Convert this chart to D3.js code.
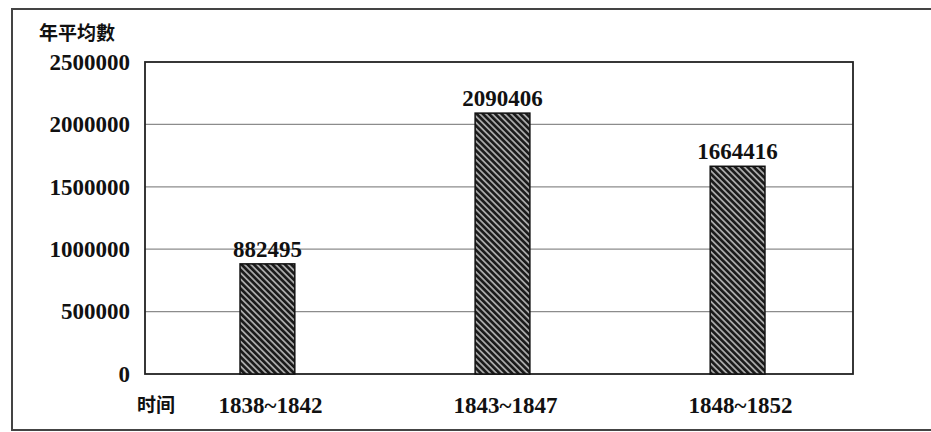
<!DOCTYPE html>
<html lang="zh">
<head>
    <meta charset="UTF-8">
    <title>年平均數</title>
    <script src="https://cdnjs.cloudflare.com/ajax/libs/d3/7.8.5/d3.min.js"></script>
    <style>
        body {
            margin: 0;
            padding: 0;
            background: #fff;
        }
        svg text {
            font-family: "Liberation Serif", "Times New Roman", serif;
            font-weight: bold;
            fill: #111;
        }
        .cjk {
            font-family: "Noto Sans CJK SC", "Noto Sans CJK TC", sans-serif !important;
        }
    </style>
</head>
<body>
    <div id="chart"></div>

    <script>
        // chart data
        const periods = ['1838~1842', '1843~1847', '1848~1852'];
        const averages = [882495, 2090406, 1664416];
        const yTicks = [0, 500000, 1000000, 1500000, 2000000, 2500000];

        const width = 931;
        const height = 432;
        const plot = { left: 145, right: 853, top: 62, bottom: 374 };

        const svg = d3.select('#chart').append('svg')
            .attr('width', width)
            .attr('height', height);

        // hatch pattern for bars (lines running top-left to bottom-right)
        const defs = svg.append('defs');
        const pat = defs.append('pattern')
            .attr('id', 'hatch')
            .attr('patternUnits', 'userSpaceOnUse')
            .attr('width', 4.4)
            .attr('height', 4.4)
            .attr('patternTransform', 'rotate(-45)');
        pat.append('rect')
            .attr('width', 4.4)
            .attr('height', 4.4)
            .attr('fill', '#a8a8a8');
        pat.append('rect')
            .attr('width', 2.6)
            .attr('height', 4.4)
            .attr('fill', '#1a1a1a');

        // outer frame
        svg.append('rect')
            .attr('x', 12)
            .attr('y', 9)
            .attr('width', 940)
            .attr('height', 421)
            .attr('fill', 'none')
            .attr('stroke', '#444')
            .attr('stroke-width', 2);

        const x = d3.scaleBand()
            .domain(periods)
            .range([150, 855])
            .paddingInner(0.767)
            .paddingOuter(0.383);

        const y = d3.scaleLinear()
            .domain([0, 2500000])
            .range([plot.bottom, plot.top]);

        // gridlines
        svg.append('g')
            .selectAll('line')
            .data(yTicks.filter(d => d > 0 && d < 2500000))
            .join('line')
            .attr('x1', plot.left)
            .attr('x2', plot.right)
            .attr('y1', d => y(d))
            .attr('y2', d => y(d))
            .attr('stroke', '#8c8c8c')
            .attr('stroke-width', 1.2);

        // plot border
        svg.append('rect')
            .attr('x', plot.left)
            .attr('y', plot.top)
            .attr('width', plot.right - plot.left)
            .attr('height', plot.bottom - plot.top)
            .attr('fill', 'none')
            .attr('stroke', '#222')
            .attr('stroke-width', 1.8);

        // y axis labels
        const yAxis = svg.append('g')
            .attr('transform', `translate(${plot.left},0)`)
            .call(d3.axisLeft(y).tickValues(yTicks).tickSize(0).tickPadding(15).tickFormat(d3.format('d')));
        yAxis.select('.domain').remove();
        yAxis.selectAll('text')
            .attr('font-size', 23)
            .attr('font-family', '"Liberation Serif", serif')
            .attr('font-weight', 'bold')
            .attr('fill', '#111');

        // bars
        svg.append('g')
            .selectAll('rect')
            .data(averages)
            .join('rect')
            .attr('x', (d, i) => x(periods[i]))
            .attr('y', d => y(d))
            .attr('width', x.bandwidth())
            .attr('height', d => y(0) - y(d))
            .attr('fill', 'url(#hatch)')
            .attr('stroke', '#111')
            .attr('stroke-width', 1.5);

        // value labels
        svg.append('g')
            .selectAll('text')
            .data(averages)
            .join('text')
            .attr('x', (d, i) => x(periods[i]) + x.bandwidth() / 2)
            .attr('y', d => y(d) - 7)
            .attr('text-anchor', 'middle')
            .attr('font-size', 23)
            .text(d => d);

        // x labels
        svg.append('g')
            .selectAll('text')
            .data(periods)
            .join('text')
            .attr('x', d => x(d) + x.bandwidth() / 2 + 3)
            .attr('y', 413)
            .attr('text-anchor', 'middle')
            .attr('font-size', 23)
            .text(d => d);

        svg.append('text')
            .attr('class', 'cjk')
            .attr('x', 137)
            .attr('y', 412)
            .attr('font-size', 19)
            .text('时间');

        svg.append('text')
            .attr('class', 'cjk')
            .attr('x', 39)
            .attr('y', 40)
            .attr('font-size', 19)
            .text('年平均數');
    </script>
</body>
</html>
